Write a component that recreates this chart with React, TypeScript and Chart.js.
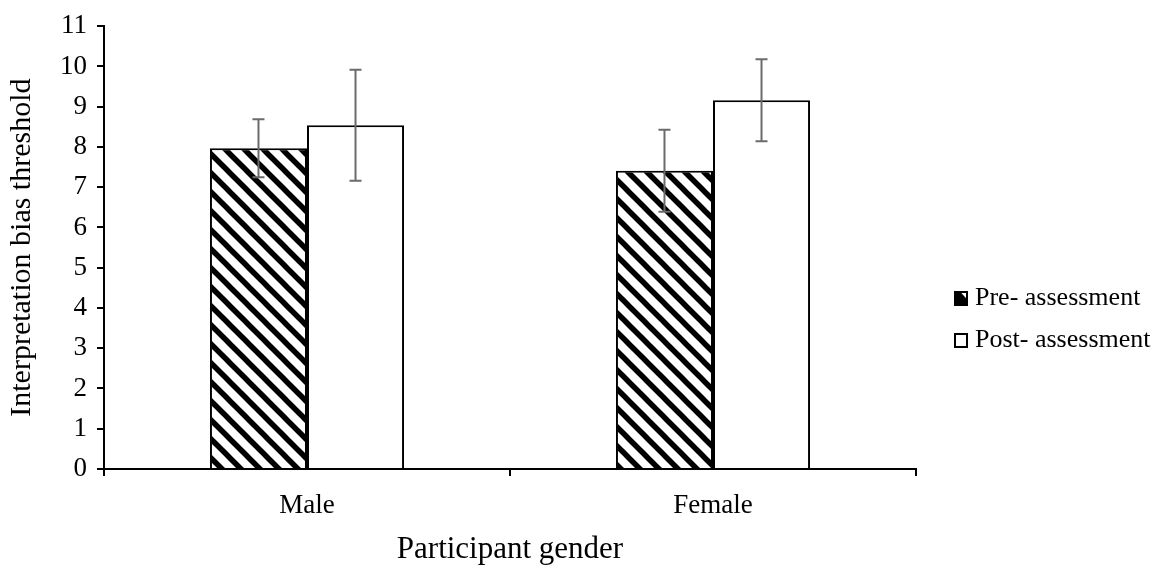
import React, { useEffect, useRef } from "react";
import { Chart, registerables } from "chart.js";

Chart.register(...registerables);

const categories = ["Male", "Female"];
const seriesNames = ["Pre- assessment", "Post- assessment"];
const preValues = [7.97, 7.41];
const postValues = [8.54, 9.16];
const preErrors = [0.72, 1.02];
const postErrors = [1.38, 1.02];
const yMin = 0;
const yMax = 11;
const yStep = 1;
const yTitle = "Interpretation bias threshold";
const xTitle = "Participant gender";

const FONT = "'Liberation Serif', 'Times New Roman', serif";

function makeHatch(): CanvasPattern | string {
  const s = 19;
  const c = document.createElement("canvas");
  c.width = s;
  c.height = s;
  const g = c.getContext("2d");
  if (!g) return "#000";
  g.fillStyle = "#fff";
  g.fillRect(0, 0, s, s);
  g.strokeStyle = "#000";
  g.lineWidth = 5.5;
  for (const k of [-1, 0, 1]) {
    g.beginPath();
    g.moveTo(-s, -s + k * s);
    g.lineTo(2 * s, 2 * s + k * s);
    g.stroke();
  }
  return g.createPattern(c, "repeat") || "#000";
}

const errorBarPlugin = {
  id: "errorBars",
  afterDatasetsDraw(chart: any) {
    const ctx = chart.ctx;
    const yScale = chart.scales.y;
    chart.data.datasets.forEach((ds: any, di: number) => {
      const meta = chart.getDatasetMeta(di);
      const errs: number[] = ds.errors || [];
      meta.data.forEach((bar: any, i: number) => {
        const v = ds.data[i];
        const e = errs[i];
        if (e == null) return;
        const x = bar.x;
        const yTop = yScale.getPixelForValue(v + e);
        const yBot = yScale.getPixelForValue(v - e);
        ctx.save();
        ctx.strokeStyle = "#6b6b6b";
        ctx.lineWidth = 2;
        ctx.beginPath();
        ctx.moveTo(x, yTop);
        ctx.lineTo(x, yBot);
        ctx.moveTo(x - 6, yTop);
        ctx.lineTo(x + 6, yTop);
        ctx.moveTo(x - 6, yBot);
        ctx.lineTo(x + 6, yBot);
        ctx.stroke();
        ctx.restore();
      });
    });
  },
};

const legendPlugin = {
  id: "customLegend",
  afterDraw(chart: any) {
    const ctx = chart.ctx;
    const x0 = 955;
    const rows = [298, 340];
    ctx.save();
    ctx.font = `26px ${FONT}`;
    ctx.textBaseline = "middle";
    ctx.fillStyle = "#000";
    seriesNames.forEach((name, i) => {
      const cy = rows[i];
      const bx = x0;
      const by = cy - 6;
      const bw = 12;
      const bh = 13;
      ctx.fillStyle = "#fff";
      ctx.fillRect(bx, by, bw, bh);
      if (i === 0) {
        ctx.fillStyle = "#000";
        ctx.beginPath();
        ctx.moveTo(bx, by);
        ctx.lineTo(bx + bw * 0.45, by);
        ctx.lineTo(bx + bw, by + bh * 0.55);
        ctx.lineTo(bx + bw, by + bh);
        ctx.lineTo(bx, by + bh);
        ctx.closePath();
        ctx.fill();
      }
      ctx.strokeStyle = "#000";
      ctx.lineWidth = 2;
      ctx.strokeRect(bx, by, bw, bh);
      ctx.fillStyle = "#000";
      ctx.fillText(name, bx + 20, cy);
    });
    ctx.restore();
  },
};

export default function App() {
  const ref = useRef<HTMLCanvasElement | null>(null);

  useEffect(() => {
    if (!ref.current) return;
    const hatch = makeHatch();
    const chart = new Chart(ref.current, {
      type: "bar",
      data: {
        labels: categories,
        datasets: [
          {
            label: seriesNames[0],
            data: preValues,
            errors: preErrors,
            backgroundColor: hatch,
            borderColor: "#000",
            borderWidth: 2,
          } as any,
          {
            label: seriesNames[1],
            data: postValues,
            errors: postErrors,
            backgroundColor: "#fff",
            borderColor: "#000",
            borderWidth: 2,
          } as any,
        ],
      },
      options: {
        animation: false,
        responsive: false,
        maintainAspectRatio: false,
        layout: { padding: { top: 22, right: 247, bottom: 0, left: 0 } },
        datasets: {
          bar: { categoryPercentage: 0.478, barPercentage: 1 },
        },
        plugins: {
          legend: { display: false },
          tooltip: { enabled: false },
        },
        scales: {
          x: {
            type: "category",
            offset: true,
            grid: {
              display: true,
              offset: true,
              drawOnChartArea: false,
              drawTicks: true,
              tickLength: 7,
              color: "#000",
              lineWidth: 2,
            },
            border: { display: true, color: "#000", width: 2 },
            ticks: {
              color: "#000",
              font: { family: FONT, size: 27 },
              padding: 14,
            },
            title: {
              display: true,
              text: xTitle,
              color: "#000",
              font: { family: FONT, size: 31, lineHeight: 1 },
              padding: 0,
            },
            afterFit(scale: any) {
              scale.height = 96;
            },
          },
          y: {
            min: yMin,
            max: yMax,
            ticks: {
              stepSize: yStep,
              color: "#000",
              font: { family: FONT, size: 27 },
              padding: 10,
            },
            grid: {
              display: true,
              drawOnChartArea: false,
              drawTicks: true,
              tickLength: 7,
              color: "#000",
              lineWidth: 2,
            },
            border: { display: true, color: "#000", width: 2 },
            title: {
              display: true,
              text: yTitle,
              color: "#000",
              font: { family: FONT, size: 30, lineHeight: 1 },
              padding: { top: 7, bottom: 0 },
            },
            afterFit(scale: any) {
              scale.width = 104;
            },
          },
        },
      },
      plugins: [errorBarPlugin, legendPlugin],
    } as any);
    return () => chart.destroy();
  }, []);

  return (
    <div style={{ position: "absolute", left: 0, top: 0, width: 1163, height: 565, background: "#fff" }}>
      <canvas ref={ref} width={1163} height={565} style={{ display: "block" }} />
    </div>
  );
}
